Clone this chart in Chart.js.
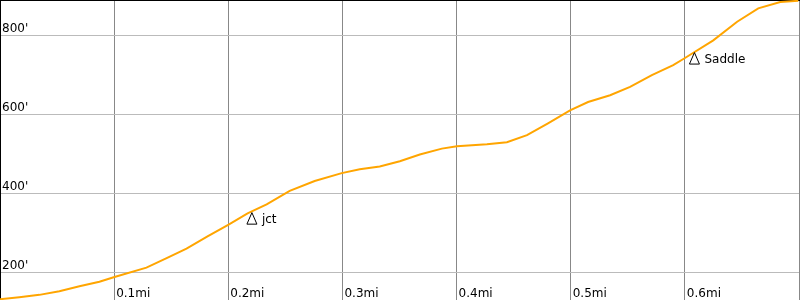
<!DOCTYPE html>
<html>
<head>
<meta charset="utf-8">
<script src="https://cdn.jsdelivr.net/npm/chart.js@4/dist/chart.umd.min.js"></script>
<style>
  body { margin: 0; background: #fff; }
  #wrap { width: 800px; height: 300px; }
</style>
</head>
<body>
<div id="wrap"><canvas id="profile" width="800" height="300"></canvas></div>
<script>
// elevation profile, distance in miles, elevation in feet
const miles = [0, 0.0169, 0.0345, 0.052, 0.0696, 0.0871, 0.1003, 0.1283, 0.146, 0.1634,
    0.1818, 0.2003, 0.2169, 0.2336, 0.2538, 0.2757, 0.2994, 0.3152, 0.3327, 0.3503,
    0.3678, 0.3871, 0.4003, 0.4266, 0.4441, 0.4617, 0.4801, 0.4994, 0.5152, 0.5345,
    0.552, 0.5711, 0.5898, 0.5994, 0.6249, 0.6458, 0.6643, 0.6836, 0.6994];
const elevation = [132, 137, 143, 152, 165, 176, 188, 212, 236, 260,
    291, 321, 349, 372, 406, 431, 451, 461, 468, 481,
    498, 513, 519, 524, 529, 547, 577, 610, 631, 648,
    669, 699, 724, 741, 787, 834, 868, 884, 887];

const waypointNames = ['jct', 'Saddle'];
const waypointMiles = [0.2207, 0.6084];
const waypointElev = [351, 756];

const xTicks = [0.1, 0.2, 0.3, 0.4, 0.5, 0.6, 0.7];
const xTickLabels = ['0.1mi', '0.2mi', '0.3mi', '0.4mi', '0.5mi', '0.6mi', ''];
const yTicks = [200, 400, 600, 800];
const yTickLabels = ["200'", "400'", "600'", "800'"];

const FONT = '12px "DejaVu Sans"';

// tick labels sit inside the plot, waypoint triangles with names
const labelsPlugin = {
    id: 'profileLabels',
    afterDatasetsDraw(chart) {
        const ctx = chart.ctx;
        const xs = chart.scales.x, ys = chart.scales.y;
        ctx.save();
        ctx.font = FONT;
        ctx.fillStyle = '#000';
        ctx.textAlign = 'left';
        ctx.textBaseline = 'alphabetic';
        yTicks.forEach((v, i) => {
            ctx.fillText(yTickLabels[i], 2, ys.getPixelForValue(v) - 3);
        });
        xTicks.forEach((v, i) => {
            if (xTickLabels[i]) ctx.fillText(xTickLabels[i], xs.getPixelForValue(v) + 2, chart.chartArea.bottom - 3);
        });

        const meta = chart.getDatasetMeta(1);
        meta.data.forEach((pt, i) => {
            const x = pt.x, y = pt.y;
            ctx.beginPath();
            ctx.moveTo(x, y);
            ctx.lineTo(x + 5, y + 11.5);
            ctx.lineTo(x - 5, y + 11.5);
            ctx.closePath();
            ctx.strokeStyle = '#000';
            ctx.lineWidth = 1;
            ctx.stroke();
            ctx.fillText(waypointNames[i], x + 10, y + 10.5);
        });
        ctx.restore();
    }
};

new Chart(document.getElementById('profile'), {
    type: 'scatter',
    data: {
        datasets: [{
            data: miles.map((m, i) => ({ x: m, y: elevation[i] })),
            showLine: true,
            borderColor: '#ffa500',
            borderWidth: 2,
            pointRadius: 0,
            tension: 0
        }, {
            data: waypointMiles.map((m, i) => ({ x: m, y: waypointElev[i] })),
            pointRadius: 0,
            showLine: false
        }]
    },
    options: {
        responsive: false,
        animation: false,
        layout: { padding: { right: 1 } },
        plugins: {
            legend: { display: false },
            tooltip: { enabled: false }
        },
        scales: {
            x: {
                type: 'linear',
                position: 'top',
                min: 0,
                max: 0.7,
                afterBuildTicks: s => { s.ticks = xTicks.map(v => ({ value: v })); },
                ticks: { display: false },
                grid: { color: '#888', drawTicks: false },
                border: { display: true, color: '#000', width: 2 }
            },
            y: {
                min: 130,
                max: 889,
                afterBuildTicks: s => { s.ticks = yTicks.map(v => ({ value: v })); },
                ticks: { display: false },
                grid: { color: '#bbb', drawTicks: false },
                border: { display: true, color: '#000', width: 2 }
            }
        }
    },
    plugins: [labelsPlugin]
});
</script>
</body>
</html>
